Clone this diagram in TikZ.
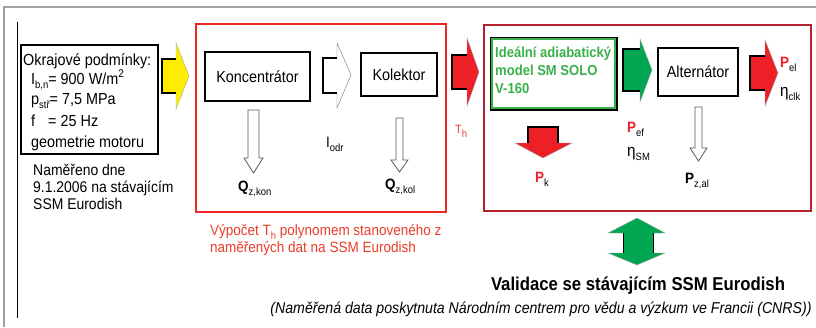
\documentclass[tikz,border=0pt]{standalone}
\usepackage{fontspec}
\setmainfont{Liberation Sans}[FakeStretch=0.9]
\usetikzlibrary{positioning}

\definecolor{framegray}{RGB}{160,160,160}
\definecolor{boxred}{RGB}{237,40,36}
\definecolor{darkbox}{RGB}{178,34,45}
\definecolor{arrred}{RGB}{236,32,38}
\definecolor{arrgreen}{RGB}{0,166,81}
\definecolor{txtgreen}{RGB}{57,176,74}
\definecolor{arryellow}{RGB}{255,237,0}
\definecolor{txtred}{RGB}{235,60,40}

\newcommand{\fsz}[1]{\fontsize{#1}{#1}\selectfont}
\newcommand{\lsub}[1]{\raisebox{-4pt}{\fsz{10.5}\mdseries #1}}

\tikzset{
  plainbox/.style={draw=black, line width=1.3pt, inner sep=0pt, font=\fsz{16}},
  lbl/.style={inner sep=0pt, anchor=base west},
  bodyline/.style={draw=black, line width=1.4pt},
  headline/.style={draw=black!35, line width=0.4pt},
  hollow/.style={fill=white, draw=black!65, line width=0.8pt},
}

\begin{document}
\begin{tikzpicture}[x=1pt, y=-1pt]
    \useasboundingbox (0,0) rectangle (816,327);

    % Frame
    \draw[framegray, line width=1.5pt] (4,327) -- (4,7) -- (816,7);
    \draw[black, line width=0.8pt] (17,22) -- (17,318);

    % Draw nodes
    \node[plainbox, minimum width=137pt, minimum height=109pt] (bc) at (89.5,99.5) {};
    \node[lbl, font=\fsz{16}] (bc1) at (23,65) {Okrajové podmínky:};
    \node[lbl, font=\fsz{16}] (bc2) at (31,84) {I\lsub{b,n}= 900 W/m\textsuperscript{2}};
    \node[lbl, font=\fsz{16}] (bc3) at (31,104) {p\lsub{stř}= 7,5 MPa};
    \node[lbl, font=\fsz{16}] (bc4) at (31,126) {f\hspace{13pt}= 25 Hz};
    \node[lbl, font=\fsz{16}] (bc5) at (31,147) {geometrie motoru};

    \node[lbl, font=\fsz{15.5}] (mer1) at (33,175) {Naměřeno dne};
    \node[lbl, font=\fsz{15.5}] (mer2) at (33,192) {9.1.2006 na stávajícím};
    \node[lbl, font=\fsz{15.5}] (mer3) at (33,209) {SSM Eurodish};

    \node[draw=boxred, line width=2pt, minimum width=250pt, minimum height=188pt] (grp1) at (321,118) {};
    \node[plainbox, minimum width=105pt, minimum height=49pt] (konc) at (257.5,76.5) {Koncentrátor};
    \node[plainbox, minimum width=76pt, minimum height=43pt] (kol) at (399,74.5) {Kolektor};

    \node[draw=darkbox, line width=2.5pt, minimum width=327pt, minimum height=186pt] (grp2) at (647.5,118) {};
    \node[draw=black, line width=3pt, minimum width=125pt, minimum height=71pt] (ideal) at (553.5,73.5) {};
    \draw[txtgreen, line width=2pt] ([shift={(2.8pt,-2.8pt)}]ideal.north west) rectangle ([shift={(-2.8pt,2.8pt)}]ideal.south east);
    \node[lbl, font=\bfseries\fsz{14.5}, text=txtgreen] (id1) at (495,57) {Ideální adiabatický};
    \node[lbl, font=\bfseries\fsz{14.5}, text=txtgreen] (id2) at (495,75) {model SM SOLO};
    \node[lbl, font=\bfseries\fsz{14.5}, text=txtgreen] (id3) at (495,93) {V-160};
    \node[plainbox, minimum width=80pt, minimum height=48pt] (alt) at (698,72) {Alternátor};

    % Draw arrows
    \fill[arryellow] (162,59) -- (176,59) -- (176,43) -- (189,76) -- (176,109) -- (176,93) -- (162,93) -- cycle;
    \draw[headline] (176,59) -- (176,43) -- (189,76) -- (176,109) -- (176,93);
    \draw[bodyline] (176,59) -- (162,59) -- (162,93) -- (176,93);

    \fill[white] (323,58) -- (337,58) -- (337,43) -- (351,75) -- (337,108) -- (337,93) -- (323,93) -- cycle;
    \draw[headline, draw=black!55] (337,58) -- (337,43) -- (351,75) -- (337,108) -- (337,93);
    \draw[bodyline] (337,58) -- (323,58) -- (323,93) -- (337,93);

    \draw[hollow] (248,110) -- (259,110) -- (259,158) -- (263,158) -- (253.5,173) -- (244,158) -- (248,158) -- cycle;
    \draw[hollow] (396,118) -- (403,118) -- (403,160) -- (408,160) -- (399.5,172) -- (391,160) -- (396,160) -- cycle;
    \draw[hollow] (695,107) -- (702,107) -- (702,148) -- (707,148) -- (698.5,161) -- (690,148) -- (695,148) -- cycle;

    \fill[arrred] (452,55) -- (467,55) -- (467,38) -- (479,72) -- (467,106) -- (467,89) -- (452,89) -- cycle;
    \draw[headline] (467,55) -- (467,38) -- (479,72) -- (467,106) -- (467,89);
    \draw[bodyline] (467,55) -- (452,55) -- (452,89) -- (467,89);

    \fill[arrgreen] (623,49) -- (640,49) -- (640,39) -- (652,70) -- (640,102) -- (640,91) -- (623,91) -- cycle;
    \draw[headline] (640,49) -- (640,39) -- (652,70) -- (640,102) -- (640,91);
    \draw[bodyline] (640,49) -- (623,49) -- (623,91) -- (640,91);

    \fill[arrred] (750,56) -- (765,56) -- (765,40) -- (778,73) -- (765,106) -- (765,90) -- (750,90) -- cycle;
    \draw[headline] (765,56) -- (765,40) -- (778,73) -- (765,106) -- (765,90);
    \draw[bodyline] (765,56) -- (750,56) -- (750,90) -- (765,90);

    \fill[arrred] (528,127) -- (558,127) -- (558,143) -- (572,143) -- (543,158) -- (515,143) -- (528,143) -- cycle;
    \draw[headline] (558,143) -- (572,143) -- (543,158) -- (515,143) -- (528,143);
    \draw[bodyline] (528,143) -- (528,127) -- (558,127) -- (558,143);

    \fill[arrgreen] (623,233) -- (608,233) -- (637,218) -- (665,233) -- (653,233) -- (653,253) -- (665,253) -- (637,265) -- (608,253) -- (623,253) -- cycle;
    \draw[headline] (623,233) -- (608,233) -- (637,218) -- (665,233) -- (653,233);
    \draw[headline] (653,253) -- (665,253) -- (637,265) -- (608,253) -- (623,253);
    \draw[bodyline, line width=1pt] (623,233) -- (623,253);
    \draw[bodyline, line width=1pt] (653,233) -- (653,253);

    % Labels
    \node[lbl, font=\bfseries\fsz{15}] (qkon) at (238,191) {Q\lsub{z,kon}};
    \node[lbl, font=\bfseries\fsz{15}] (qkol) at (385,189) {Q\lsub{z,kol}};
    \node[lbl, font=\fsz{15}] (iodr) at (326,147) {I\lsub{odr}};
    \node[lbl, font=\fsz{12}, text=txtred] (th) at (455,133) {T\lsub{h}};
    \node[lbl, font=\bfseries\fsz{15}, text=arrred] (pk) at (535,182) {P\lsub{\color{black}k}};
    \node[lbl, font=\bfseries\fsz{15}, text=arrred] (pef) at (627,132) {P\lsub{\color{black}ef}};
    \node[lbl, font=\fsz{17}] (etasm) at (627,156) {η\lsub{SM}};
    \node[lbl, font=\bfseries\fsz{15}] (pzal) at (685,183) {P\lsub{z,al}};
    \node[lbl, font=\bfseries\fsz{15}, text=arrred] (pel) at (780,67) {P\lsub{\color{black}el}};
    \node[lbl, font=\fsz{17}] (etaclk) at (780,96) {η\lsub{clk}};

    \node[lbl, font=\fsz{15}, text=txtred] (vyp1) at (210,235) {Výpočet T\lsub{h} polynomem stanoveného z};
    \node[lbl, font=\fsz{15}, text=txtred] (vyp2) at (210,252) {naměřených dat na SSM Eurodish};

    \node[anchor=base, inner sep=0pt, font=\bfseries\fsz{18.6}] (valid) at (638,290) {Validace se stávajícím SSM Eurodish};
    \node[anchor=base, inner sep=0pt, font=\itshape\fsz{15.7}] (cnrs) at (541,313) {(Naměřená data poskytnuta Národním centrem pro vědu a výzkum ve Francii (CNRS))};
\end{tikzpicture}
\end{document}
